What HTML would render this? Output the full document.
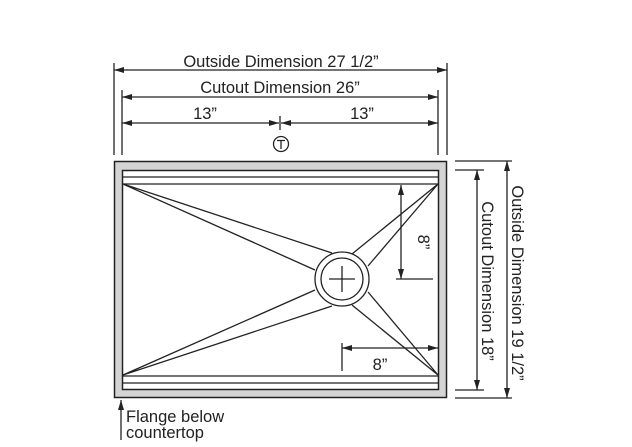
<!DOCTYPE html>
<html><head><meta charset="utf-8"><style>
html,body{margin:0;padding:0;background:#fff;}
svg{display:block;}
text{font-family:"Liberation Sans",Arial,sans-serif;fill:#222;}
</style></head><body>
<svg width="632" height="447" viewBox="0 0 632 447" xmlns="http://www.w3.org/2000/svg">
<defs>
<marker id="a" viewBox="0 0 10 6" refX="10" refY="3" markerWidth="10" markerHeight="6" orient="auto-start-reverse" markerUnits="userSpaceOnUse"><path d="M0,0 L10,3 L0,6 z" fill="#222"/></marker>
</defs>
<g stroke="#222" stroke-width="1.3" fill="none">
<rect x="114.5" y="161.5" width="332" height="236" fill="#d4d4d4" stroke-width="1.5"/>
<rect x="122.5" y="170.5" width="316" height="219" fill="#fff" stroke-width="1.5"/>
<line x1="122" y1="177" x2="439" y2="177"/>
<line x1="122" y1="184" x2="439" y2="184"/>
<line x1="122" y1="376" x2="439" y2="376"/>
<line x1="122" y1="383" x2="439" y2="383"/>
<path d="M123,184 L332,253 M123,184 L315,270 M123,375 L315,290 M123,375 L332,306 M438,184 L352,254 M438,184 L368,266 M438,375 L352,305 M438,375 L368,292"/>
<circle cx="342" cy="279" r="27" fill="#fff"/>
<circle cx="342" cy="279" r="21"/>
<path d="M329,279 H355 M342,266 V292"/>
<path d="M114,63 V155 M447,63 V155 M122,90 V155 M438,90 V155 M280,116 V130"/>
<line x1="114" y1="70" x2="447" y2="70" marker-start="url(#a)" marker-end="url(#a)"/>
<line x1="122" y1="97" x2="438" y2="97" marker-start="url(#a)" marker-end="url(#a)"/>
<line x1="122" y1="123" x2="279" y2="123" marker-start="url(#a)" marker-end="url(#a)"/>
<line x1="281" y1="123" x2="438" y2="123" marker-start="url(#a)" marker-end="url(#a)"/>
<circle cx="281" cy="144" r="7.5"/>
<path d="M277,140.5 H285 M281,140.5 V149"/>
<path d="M455,161 H512 M455,398 H512 M455,170 H484 M455,390 H484"/>
<line x1="507" y1="161" x2="507" y2="398" marker-start="url(#a)" marker-end="url(#a)"/>
<line x1="477" y1="170" x2="477" y2="390" marker-start="url(#a)" marker-end="url(#a)"/>
<path d="M396,279 H433 M342,343 V371"/>
<line x1="401" y1="185" x2="401" y2="279" marker-start="url(#a)" marker-end="url(#a)"/>
<line x1="342" y1="348" x2="438" y2="348" marker-start="url(#a)" marker-end="url(#a)"/>
<line x1="121" y1="440" x2="121" y2="400" marker-end="url(#a)"/>
</g>
<g font-size="16.5">
<text x="281" y="67" text-anchor="middle">Outside Dimension 27 1/2”</text>
<text x="280" y="93" text-anchor="middle">Cutout Dimension 26”</text>
<text x="205" y="119" text-anchor="middle">13”</text>
<text x="362" y="119" text-anchor="middle">13”</text>
<text x="380" y="370" text-anchor="middle">8”</text>
<text transform="translate(418,242) rotate(90)" text-anchor="middle">8”</text>
<text transform="translate(482,281) rotate(90)" text-anchor="middle">Cutout Dimension 18”</text>
<text transform="translate(512,283) rotate(90)" text-anchor="middle">Outside Dimension 19 1/2”</text>
<text x="126" y="422">Flange below</text>
<text x="126" y="438">countertop</text>
</g>
</svg>
</body></html>
